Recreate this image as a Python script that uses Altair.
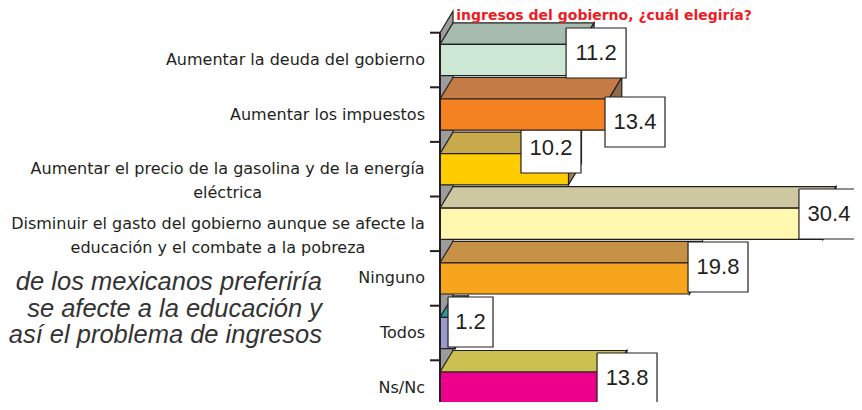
import textwrap
import altair as alt
import pandas as pd

# ---------------- data ----------------
categories = [
    "Aumentar la deuda del gobierno",
    "Aumentar los impuestos",
    "Aumentar el precio de la gasolina y de la energía eléctrica",
    "Disminuir el gasto del gobierno aunque se afecte la educación y el combate a la pobreza",
    "Ninguno",
    "Todos",
    "Ns/Nc",
]
values = [11.2, 13.4, 10.2, 30.4, 19.8, 1.2, 13.8]
value_labels = ["11.2", "13.4", "10.2", "30.4", "19.8", "1.2", "13.8"]
title_text = "ingresos del gobierno, ¿cuál elegiría?"
note_lines = [
    "de los mexicanos preferiría",
    "se afecte a la educación y",
    "así el problema de ingresos",
]

# ---------------- style ----------------
front_colors = ["#CCE8D5", "#F58220", "#FFCC00", "#FFF8AE", "#F7A51D", "#9999CC", "#EC008C"]
top_colors = ["#A8BBAF", "#C57B45", "#C8A94C", "#CDC89F", "#C79246", "#2E9A9D", "#CBC050"]
side_colors = ["#7F8F86", "#8E6B4B", "#9C8440", "#A39F7E", "#9A7038", "#217375", "#9C9238"]
WALL = "#9C9C9C"
EDGE = "#231F20"

# ---------------- layout ----------------
PAD_L = 432
W, H = 414, 394                  # plot area: page x 440..854, page y 8..402
PX_PER_UNIT = 12.597
X_MAX = W / PX_PER_UNIT
Y_TOP, Y_BOT = (8 - 60) / 54.6, (402 - 60) / 54.6
PXX = X_MAX / W                 # value units per pixel
PXY = (Y_BOT - Y_TOP) / H       # category units per pixel
DX = 13 * PXX                   # 3-D depth, horizontal
DY = 21.5 * PXY                 # 3-D depth, vertical
HALF = 15.6 * PXY               # half height of the front face
label_nudge = [(-15, -16.4), (-3.8, -2), (-47.5, -30.6), (-24, -19.2),
               (-1.4, -20.8), (-7.1, -20.4), (-16.8, -19)]
BOX_H = 50

xs = alt.Scale(domain=[0, X_MAX], nice=False, zero=False)
ys = alt.Scale(domain=[Y_TOP, Y_BOT], reverse=True, nice=False, zero=False)

rows = []
counter = [0]


def poly(pts, fill):
    name = f"p{counter[0]:02d}"
    counter[0] += 1
    for k, (x, y) in enumerate(pts + [pts[0]]):
        rows.append(dict(poly=name, k=k, x=x, y=y, fill=fill))


# side wall
poly([(0, -0.5), (DX, -0.5 - DY), (DX, 6.7 - DY), (0, 6.7)], WALL)

text_rows = []
for i in reversed(range(len(values))):
    v = values[i]
    t, b = i - HALF, i + HALF
    poly([(0, t), (v, t), (v + DX, t - DY), (DX, t - DY)], top_colors[i])
    poly([(v, t), (v + DX, t - DY), (v + DX, b - DY), (v, b)], side_colors[i])
    poly([(0, t), (v, t), (v, b), (0, b)], front_colors[i])
    nl, nt = label_nudge[i]
    bw = 15 * len(value_labels[i])
    l = v + nl * PXX
    r = l + bw * PXX
    bt = t + nt * PXY
    bb = bt + BOX_H * PXY
    poly([(l, bt), (r, bt), (r, bb), (l, bb)], "#FFFFFF")
    text_rows.append(dict(x=(l + r) / 2, y=(bt + bb) / 2, t=value_labels[i]))

polys = alt.Chart(pd.DataFrame(rows)).mark_line(
    filled=True, stroke=EDGE, strokeWidth=1.2, interpolate="linear"
).encode(
    x=alt.X("x:Q", scale=xs, axis=None),
    y=alt.Y("y:Q", scale=ys, axis=None),
    detail="poly:N",
    order="k:Q",
    color=alt.Color("fill:N", scale=None),
)

value_text = alt.Chart(pd.DataFrame(text_rows)).mark_text(
    font="Liberation Sans", fontSize=22, color=EDGE, align="center", baseline="middle"
).encode(x=alt.X("x:Q", scale=xs), y=alt.Y("y:Q", scale=ys), text="t:N")

axis_line = alt.Chart(pd.DataFrame({"y": [-0.5], "y2": [6.7]})).mark_rule(
    color=EDGE, strokeWidth=2
).encode(x=alt.value(0), y=alt.Y("y:Q", scale=ys), y2="y2:Q")

ticks = alt.Chart(pd.DataFrame({"y": [k - 0.5 for k in range(8)]})).mark_rule(
    color=EDGE, strokeWidth=2
).encode(x=alt.value(-10), x2=alt.value(0), y=alt.Y("y:Q", scale=ys))

# category labels
DV = {' ': 318, 'A': 684, 'D': 770, 'N': 748, 'T': 611, 'a': 613, 'b': 635, 'c': 550,
      'd': 635, 'e': 615, 'f': 352, 'g': 635, 'h': 634, 'i': 278, 'l': 278, 'm': 974,
      'n': 634, 'o': 612, 'p': 635, 'q': 635, 'r': 411, 's': 521, 't': 392, 'u': 634,
      'v': 592, 'y': 592, 'z': 525, 'á': 613, 'é': 615, 'í': 278, 'ó': 612, '/': 337}
LAB_FS = 16


def text_width(s):
    return sum(DV.get(ch, 600) for ch in s) * LAB_FS / 1000


single, multi = [], []
for i, cat in enumerate(categories):
    lines = textwrap.wrap(cat, 51)
    if len(lines) == 1:
        single.append(dict(y=i, t=cat))
    else:
        w = max(text_width(s) for s in lines)
        multi.append(dict(y=i, t="\n".join(lines), x=(-15 - w / 2) * PXX))

lab_single = alt.Chart(pd.DataFrame(single)).mark_text(
    font="DejaVu Sans", fontSize=LAB_FS, color=EDGE, align="right", baseline="middle"
).encode(x=alt.value(-15), y=alt.Y("y:Q", scale=ys), text="t:N")

lab_multi = alt.Chart(pd.DataFrame(multi)).mark_text(
    font="DejaVu Sans", fontSize=LAB_FS, color=EDGE, align="center", baseline="middle",
    lineBreak="\n", lineHeight=24
).encode(x=alt.X("x:Q", scale=xs), y=alt.Y("y:Q", scale=ys), text="t:N")

note = alt.Chart(pd.DataFrame({"t": ["\n".join(note_lines)]})).mark_text(
    font="Liberation Sans", fontStyle="italic", fontSize=25.5, color="#333333",
    align="right", baseline="alphabetic", lineBreak="\n", lineHeight=26.5
).encode(x=alt.value(-118), y=alt.value(282), text="t:N")

title = alt.Chart(pd.DataFrame({"t": [title_text]})).mark_text(
    font="DejaVu Sans", fontWeight="bold", fontSize=14, color="#ED1C24",
    align="center", baseline="alphabetic"
).encode(x=alt.value(164), y=alt.value(12), text="t:N")

chart = alt.layer(
    polys, axis_line, ticks, value_text, lab_single, lab_multi, note, title
).properties(
    width=W, height=H,
    padding={"left": PAD_L, "top": 0, "right": 0, "bottom": 0},
    autosize=alt.AutoSizeParams(type="none"),
    background="#FFFFFF",
).configure_view(stroke=None)

chart.save("out.html", embed_options={"renderer": "svg", "actions": False})
